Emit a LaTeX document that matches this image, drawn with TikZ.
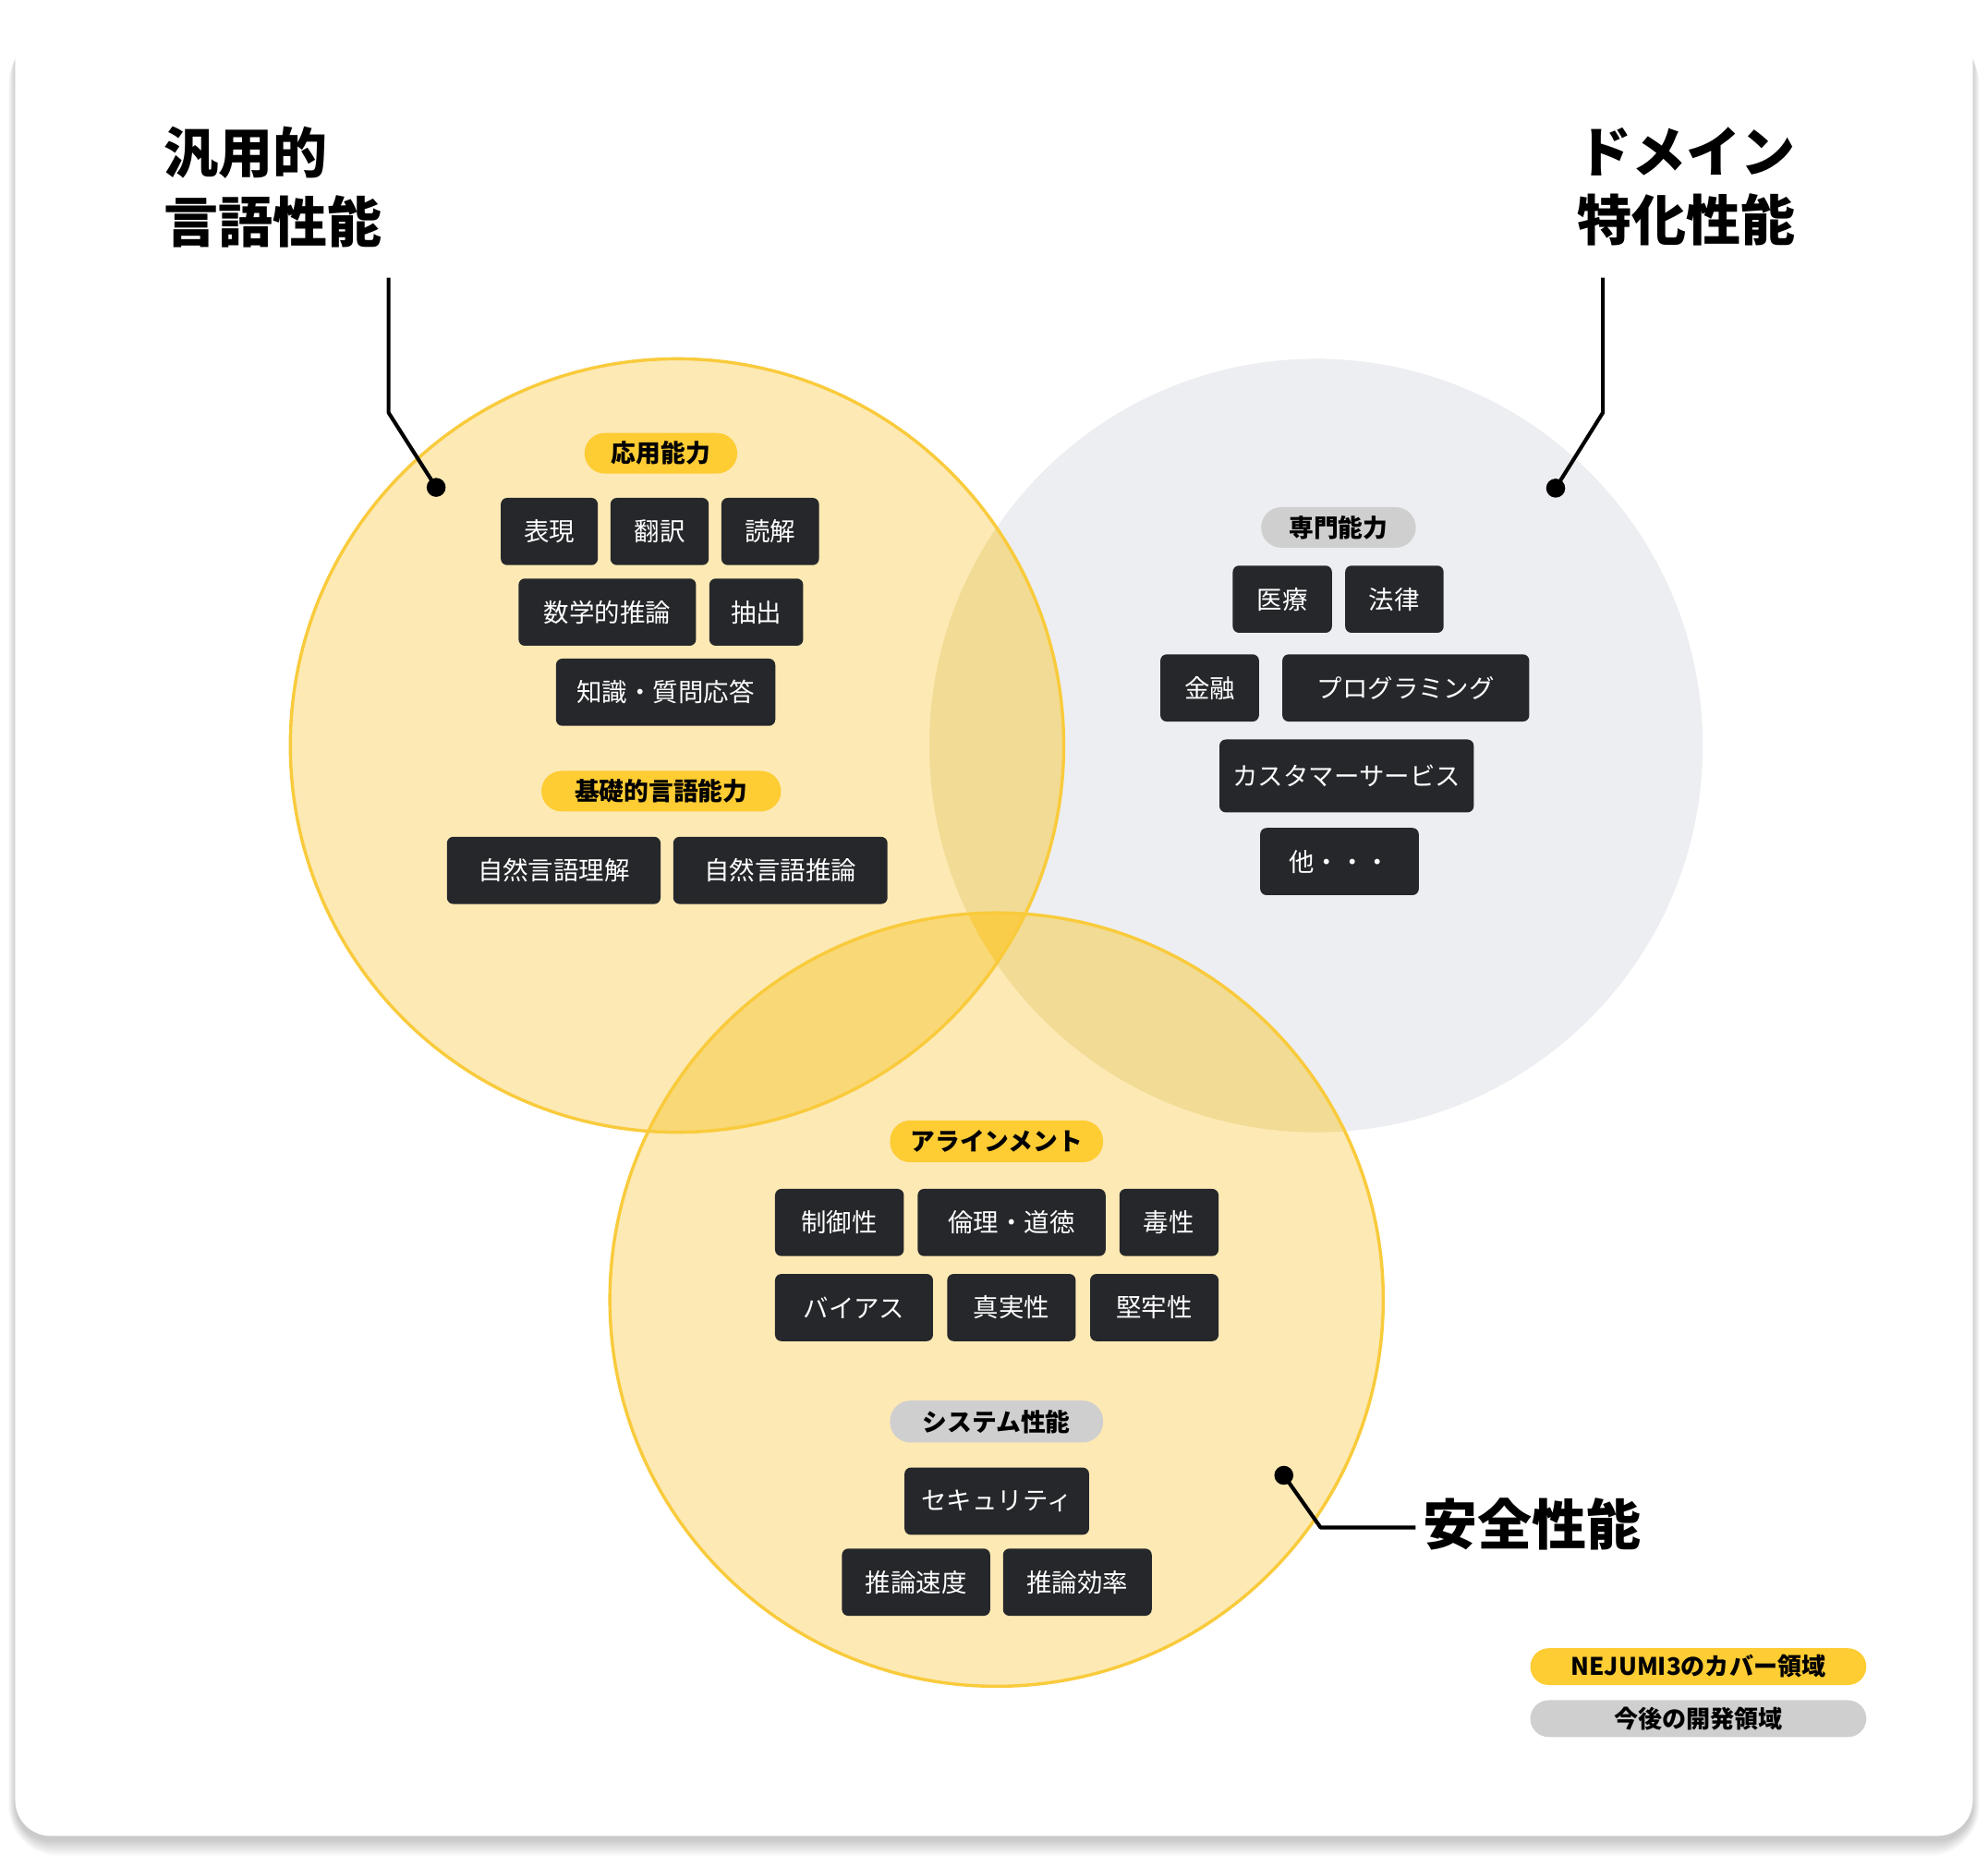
\documentclass[tikz,border=0pt]{standalone}
\usepackage{fontspec}
\setmainfont{Noto Sans CJK JP}
\definecolor{ylfill}{HTML}{FDE9B4}
\definecolor{grfill}{HTML}{EDEEF2}
\definecolor{ovYG}{HTML}{F2DB94}
\definecolor{ovYY}{HTML}{F9D877}
\definecolor{ovAll}{HTML}{F9CD4A}
\definecolor{ylline}{HTML}{F9CB3C}
\definecolor{pillyel}{HTML}{FECC33}
\definecolor{pillgry}{HTML}{CFCFCF}
\definecolor{boxdark}{HTML}{25272B}
\begin{document}
\begin{tikzpicture}[x=1pt,y=-1pt,
  darkbox/.style={fill=boxdark, text=white, rounded corners=5, minimum height=53, inner sep=0,
    font=\fontsize{20}{24}\selectfont},
  pillbase/.style={rounded corners=16, minimum height=32, inner sep=0, text=black,
    font=\bfseries\fontsize{19.5}{23}\selectfont},
  pillY/.style={pillbase, fill=pillyel},
  pillG/.style={pillbase, fill=pillgry},
  legendpill/.style={minimum width=265, minimum height=29, rounded corners=14.5,
    font=\bfseries\fontsize{19}{23}\selectfont},
  titletext/.style={inner sep=0, text=black, font=\bfseries\fontsize{43}{54}\selectfont},
  leader/.style={draw=black, line width=3, line join=round},
  leaderdot/.style={circle, fill=black, inner sep=0, minimum size=15}]
\useasboundingbox (0,0) rectangle (1568,1472);
\fill[white] (0,0) rectangle (1568,1472);
% card shadow
\foreach \s in {0,1,...,12}{
  \fill[black, opacity=0.017, rounded corners=28+\s]
    (12-\s*0.45, 22+\s*0.5) rectangle (1556+\s*0.45, 1452+\s);
}
\fill[white, rounded corners=28] (12,12) rectangle (1556,1448);
% circles
\coordinate (cL) at (534,588);
\coordinate (cR) at (1038,588);
\coordinate (cB) at (786,1025);
\fill[grfill] (cR) circle (305);
\fill[ylfill] (cL) circle (305);
\fill[ylfill] (cB) circle (305);
\begin{scope}\clip (cL) circle (305); \fill[ovYG] (cR) circle (305); \end{scope}
\begin{scope}\clip (cB) circle (305); \fill[ovYG] (cR) circle (305); \end{scope}
\begin{scope}\clip (cL) circle (305); \fill[ovYY] (cB) circle (305); \end{scope}
\begin{scope}\clip (cL) circle (305); \clip (cB) circle (305); \fill[ovAll] (cR) circle (305); \end{scope}
\draw[ylline, line width=2.5] (cL) circle (305);
\draw[ylline, line width=2.5] (cB) circle (305);
% titles
\node[titletext, align=left, anchor=north west] (tGen) at (129,100) {汎用的\\言語性能};
\node[titletext, align=right, anchor=north east] (tDom) at (1416,100) {ドメイン\\特化性能};
\node[titletext, anchor=west] (tSafe) at (1122,1202) {安全性能};
% leaders
\node[leaderdot] (dotL) at (344,384.4) {};
\coordinate (topL) at (306.5,219);
\coordinate (bendL) at (306.5,325.5);
\draw[leader] (topL) -- (bendL) -- (dotL.center);
\node[leaderdot] (dotR) at (1227,385) {};
\coordinate (topR) at (1264.2,219);
\coordinate (bendR) at (1264.2,325.5);
\draw[leader] (topR) -- (bendR) -- (dotR.center);
\node[leaderdot] (dotB) at (1012.6,1163.6) {};
\coordinate (bendB) at (1041.6,1204.8);
\coordinate (endB) at (1116.6,1204.8);
\draw[leader] (dotB.center) -- (bendB) -- (endB);
% left group
\node[pillY, minimum width=120.5] (pOyo) at (521.25,357.5) {応用能力};
\node[darkbox, minimum width=76.5] (bHyo) at (433.25,419.2) {表現};
\node[darkbox, minimum width=77.5] (bHon) at (520.25,419.2) {翻訳};
\node[darkbox, minimum width=77] (bDok) at (607.5,419.2) {読解};
\node[darkbox, minimum width=140] (bSug) at (479,482.8) {数学的推論};
\node[darkbox, minimum width=74] (bChu) at (596.5,482.8) {抽出};
\node[darkbox, minimum width=173] (bChi) at (525,546) {知識・質問応答};
\node[pillY, minimum width=189] (pKis) at (521.5,624) {基礎的言語能力};
\node[darkbox, minimum width=168.5] (bRik) at (436.75,686.5) {自然言語理解};
\node[darkbox, minimum width=169] (bSui) at (615.5,686.5) {自然言語推論};
% right group
\node[pillG, minimum width=122] (pSen) at (1055.7,416) {専門能力};
\node[darkbox, minimum width=78.2] (bIry) at (1011.4,472.6) {医療};
\node[darkbox, minimum width=77.6] (bHor) at (1099.8,472.6) {法律};
\node[darkbox, minimum width=77.8] (bKin) at (954.1,542.6) {金融};
\node[darkbox, minimum width=194.8] (bPro) at (1108.8,542.6) {プログラミング};
\node[darkbox, minimum width=200.6, minimum height=57.5] (bCus) at (1062.1,612) {カスタマーサービス};
\node[darkbox, minimum width=125.1] (bTa) at (1056.5,679.5) {他・・・};
% bottom group
\node[pillY, minimum width=168, minimum height=33] (pAli) at (786,900.2) {アラインメント};
\node[darkbox, minimum width=101.6] (bSei) at (662.1,964.2) {制御性};
\node[darkbox, minimum width=148.2] (bRin) at (797.9,964.2) {倫理・道徳};
\node[darkbox, minimum width=78.2] (bDoku) at (922,964.2) {毒性};
\node[darkbox, minimum width=124.6] (bBia) at (673.6,1031.3) {バイアス};
\node[darkbox, minimum width=101.3] (bShi) at (797.75,1031.3) {真実性};
\node[darkbox, minimum width=101.3] (bKen) at (910.45,1031.3) {堅牢性};
\node[pillG, minimum width=168, minimum height=33] (pSys) at (786,1121.2) {システム性能};
\node[darkbox, minimum width=145.6] (bSec) at (786.2,1184) {セキュリティ};
\node[darkbox, minimum width=116.9] (bSok) at (722.5,1247.9) {推論速度};
\node[darkbox, minimum width=117.3] (bKou) at (849.75,1247.9) {推論効率};
% legend
\node[pillY, legendpill] (lgY) at (1339.5,1314.5) {NEJUMI3のカバー領域};
\node[pillG, legendpill] (lgG) at (1339.5,1355.5) {今後の開発領域};
\end{tikzpicture}
\end{document}
